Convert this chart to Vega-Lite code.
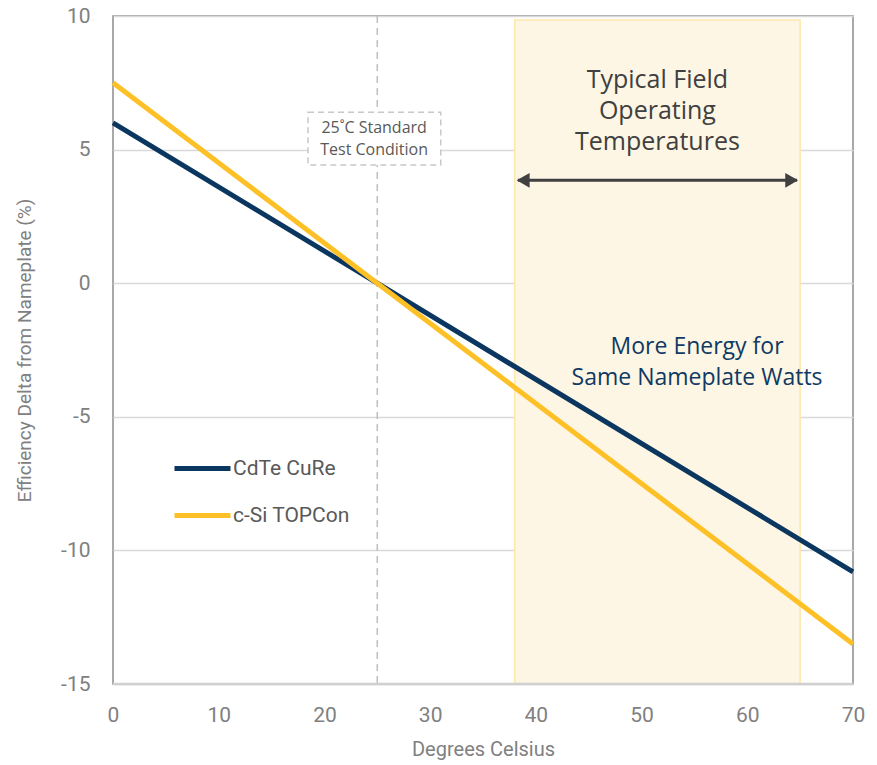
{
  "$schema": "https://vega.github.io/schema/vega-lite/v6.json",
  "width": 740,
  "height": 668,
  "autosize": "none",
  "padding": {"left": 113, "top": 16, "right": 24, "bottom": 81},
  "background": "white",
  "config": {
    "view": {"stroke": "#8C8C8C", "strokeWidth": 1.5},
    "font": "Roboto"
  },
  "datasets": {
    "lines": [
      {"temp": 0, "delta": 6.0, "series": "CdTe CuRe"},
      {"temp": 25, "delta": 0.0, "series": "CdTe CuRe"},
      {"temp": 70, "delta": -10.8, "series": "CdTe CuRe"},
      {"temp": 0, "delta": 7.5, "series": "c-Si TOPCon"},
      {"temp": 25, "delta": 0.0, "series": "c-Si TOPCon"},
      {"temp": 70, "delta": -13.5, "series": "c-Si TOPCon"}
    ],
    "band": [{"x1": 38, "x2": 65, "y1": -15, "y2": 9.85}],
    "stc": [{"t": 25}],
    "base": [{"x1": 0, "x2": 70, "y": -15}],
    "box": [{"x1": 18.45, "x2": 31.0, "y1": 4.42, "y2": 6.4}],
    "arrow": [{"x1": 38.3, "x2": 64.7, "y": 3.85}],
    "heads": [
      {"x": 38.8, "y": 3.85, "shape": "triangle-left"},
      {"x": 64.2, "y": 3.85, "shape": "triangle-right"}
    ],
    "stcText": [
      {"x": 24.7, "y": 5.8, "label": "25˚C Standard"},
      {"x": 24.7, "y": 5.0, "label": "Test Condition"}
    ],
    "fieldText": [
      {"x": 51.5, "y": 7.6, "label": "Typical Field"},
      {"x": 51.5, "y": 6.44, "label": "Operating"},
      {"x": 51.5, "y": 5.28, "label": "Temperatures"}
    ],
    "energyText": [
      {"x": 55.25, "y": -2.4, "label": "More Energy for"},
      {"x": 55.25, "y": -3.56, "label": "Same Nameplate Watts"}
    ]
  },
  "layer": [
    {
      "data": {"name": "band"},
      "mark": {"type": "rect", "fill": "#FEF6E4", "stroke": "#FDE7A9", "strokeWidth": 1.5},
      "encoding": {
        "x": {"field": "x1", "type": "quantitative", "scale": {"domain": [0, 70], "nice": false},
          "axis": {"values": [0, 10, 20, 30, 40, 50, 60, 70], "title": "Degrees Celsius", "grid": false,
            "domain": false, "ticks": false, "labelFlush": false, "labelFontSize": 21, "labelColor": "#808080", "labelPadding": 20,
            "titleFontSize": 20, "titleColor": "#808080", "titleFontWeight": "normal", "titlePadding": 14}},
        "x2": {"field": "x2"},
        "y": {"field": "y1", "type": "quantitative", "scale": {"domain": [-15, 10], "nice": false},
          "axis": {"values": [-15, -10, -5, 0, 5, 10], "title": "Efficiency Delta from Nameplate (%)",
            "labelExpr": "'' + datum.value",
            "grid": true, "gridColor": "#D9D9D9", "gridWidth": 1.5, "domain": false, "ticks": false, "labelFlush": false,
            "labelFontSize": 21, "labelColor": "#808080", "labelPadding": 23,
            "titleFontSize": 19, "titleColor": "#808080", "titleFontWeight": "normal", "titlePadding": 26}},
        "y2": {"field": "y2"}
      }
    },
    {
      "data": {"name": "base"},
      "mark": {"type": "rule", "color": "#D0D0D0", "strokeWidth": 2.5},
      "encoding": {
        "x": {"field": "x1", "type": "quantitative"},
        "x2": {"field": "x2"},
        "y": {"field": "y", "type": "quantitative"}
      }
    },
    {
      "data": {"name": "stc"},
      "mark": {"type": "rule", "color": "#BFBFBF", "strokeWidth": 1.5, "strokeDash": [7, 5]},
      "encoding": {"x": {"field": "t", "type": "quantitative"}}
    },
    {
      "data": {"name": "lines"},
      "mark": {"type": "line", "strokeWidth": 5},
      "encoding": {
        "x": {"field": "temp", "type": "quantitative"},
        "y": {"field": "delta", "type": "quantitative"},
        "color": {"field": "series", "type": "nominal",
          "scale": {"domain": ["CdTe CuRe", "c-Si TOPCon"], "range": ["#0A365F", "#FDC127"]},
          "legend": {"orient": "none", "legendX": 59, "legendY": 422, "title": null,
            "symbolType": "stroke", "symbolSize": 3136, "symbolStrokeWidth": 5,
            "labelFontSize": 21, "labelColor": "#595959", "labelOffset": 0, "rowPadding": 6,
            "labelFont": "Roboto"}
        }
      }
    },
    {
      "data": {"name": "box"},
      "mark": {"type": "rect", "fill": "white", "stroke": "#C8C8C8", "strokeWidth": 1.5, "strokeDash": [6, 4]},
      "encoding": {
        "x": {"field": "x1", "type": "quantitative"},
        "x2": {"field": "x2"},
        "y": {"field": "y1", "type": "quantitative"},
        "y2": {"field": "y2"}
      }
    },
    {
      "data": {"name": "stcText"},
      "mark": {"type": "text", "fontSize": 16, "color": "#595959", "font": "Open Sans", "baseline": "middle"},
      "encoding": {
        "x": {"field": "x", "type": "quantitative"},
        "y": {"field": "y", "type": "quantitative"},
        "text": {"field": "label"}
      }
    },
    {
      "data": {"name": "arrow"},
      "mark": {"type": "rule", "color": "#404040", "strokeWidth": 3},
      "encoding": {
        "x": {"field": "x1", "type": "quantitative"},
        "x2": {"field": "x2"},
        "y": {"field": "y", "type": "quantitative"}
      }
    },
    {
      "data": {"name": "heads"},
      "mark": {"type": "point", "filled": true, "color": "#404040", "size": 220, "opacity": 1},
      "encoding": {
        "x": {"field": "x", "type": "quantitative"},
        "y": {"field": "y", "type": "quantitative"},
        "shape": {"field": "shape", "type": "nominal", "scale": null, "legend": null}
      }
    },
    {
      "data": {"name": "fieldText"},
      "mark": {"type": "text", "fontSize": 25, "color": "#404040", "font": "Open Sans", "baseline": "middle"},
      "encoding": {
        "x": {"field": "x", "type": "quantitative"},
        "y": {"field": "y", "type": "quantitative"},
        "text": {"field": "label"}
      }
    },
    {
      "data": {"name": "energyText"},
      "mark": {"type": "text", "fontSize": 23, "color": "#0F3A63", "font": "Open Sans", "baseline": "middle"},
      "encoding": {
        "x": {"field": "x", "type": "quantitative"},
        "y": {"field": "y", "type": "quantitative"},
        "text": {"field": "label"}
      }
    }
  ]
}
